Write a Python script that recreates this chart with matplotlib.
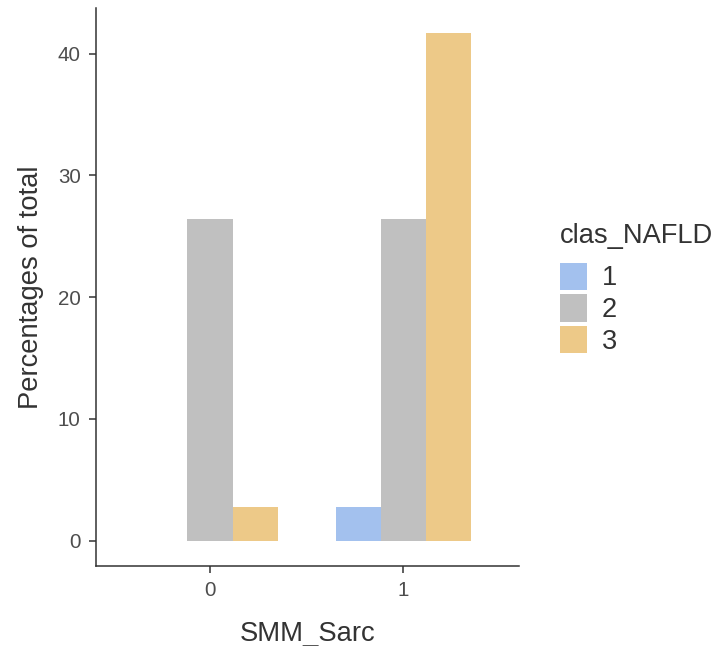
import numpy as np
import matplotlib
matplotlib.use('Agg')
import matplotlib.pyplot as plt
from matplotlib.patches import Patch

# 数据
groups = ['0', '1']
classes = ['1', '2', '3']
pct_class1 = [0.0, 2.78]
pct_class2 = [26.39, 26.39]
pct_class3 = [2.78, 41.67]
colors = ['#A3C1EE', '#C0C0C0', '#EDC988']

plt.rcParams['font.family'] = ['Liberation Sans', 'DejaVu Sans']

fig = plt.figure(figsize=(7.15, 6.46), dpi=100)
ax = fig.add_axes([0.1343, 0.1238, 0.7259 - 0.1343, 0.9876 - 0.1238])

x = np.arange(len(groups))
w = 0.7 / 3
series = [pct_class1, pct_class2, pct_class3]
for i, vals in enumerate(series):
    pos = x + (i - 1) * w
    for p, v in zip(pos, vals):
        if v > 0:
            ax.bar(p, v, width=w, color=colors[i], linewidth=0)

ax.set_xlim(-0.59, 1.60)
ax.set_ylim(-2.08, 43.75)
ax.set_xticks(x)
ax.set_xticklabels(groups)
ax.set_yticks([0, 10, 20, 30, 40])

for s in ['top', 'right']:
    ax.spines[s].set_visible(False)
for s in ['left', 'bottom']:
    ax.spines[s].set_color('#333333')
    ax.spines[s].set_linewidth(1.1)
ax.tick_params(axis='both', colors='#333333', width=1.1, length=5,
               labelsize=14.8, labelcolor='#4d4d4d', pad=6)

ax.set_xlabel('SMM_Sarc', fontsize=19.7, color='#333333', labelpad=15)
ax.set_ylabel('Percentages of total', fontsize=19.7, color='#333333', labelpad=10)

handles = [Patch(facecolor=c, edgecolor='none') for c in colors]
leg = ax.legend(handles, classes, title='clas_NAFLD', loc='upper left',
                bbox_to_anchor=(0.783, 0.655), bbox_transform=fig.transFigure,
                frameon=False, fontsize=19.6, title_fontsize=19.6,
                handlelength=1.0, handleheight=1.15, handletextpad=0.55,
                labelspacing=0.11, borderaxespad=0, borderpad=0)
leg._legend_box.align = 'left'
leg._legend_box.sep = 10
for t in leg.get_texts():
    t.set_color('#333333')
leg.get_title().set_color('#333333')

fig.savefig('out.png', dpi=100)
